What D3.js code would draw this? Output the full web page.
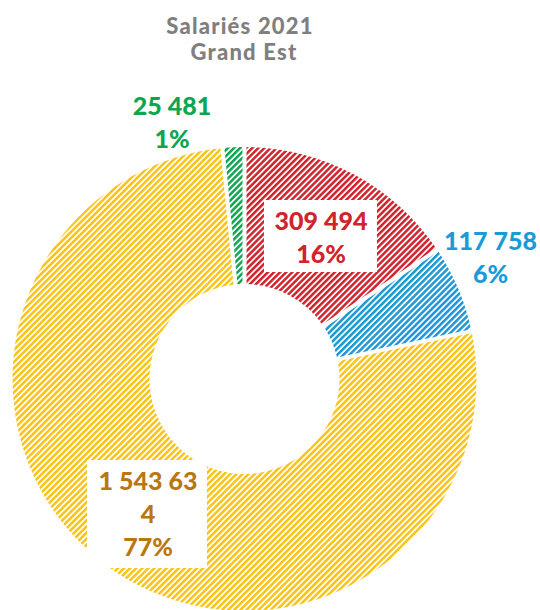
<!DOCTYPE html>
<html><head><meta charset="utf-8">
<script src="https://cdn.jsdelivr.net/npm/d3@7"></script>
<style>html,body{margin:0;padding:0;background:#fff;}svg{display:block;}</style>
</head><body>
<svg id="chart" width="540" height="610"></svg>
<script>
const titleLines = ["Salariés 2021", "Grand Est"];
const categories = ["s1", "s2", "s3", "s4"];
const values = [309494, 117758, 1543634, 25481];
const valueLines = [["309 494"], ["117 758"], ["1 543 63", "4"], ["25 481"]];
const percentLabels = ["16%", "6%", "77%", "1%"];
const sliceColors = ["#D2232C", "#1C98D6", "#FBC316", "#0EA650"];
const labelColors = ["#D0232B", "#1B9AD8", "#BA770D", "#0BA64F"];

const svg = d3.select("#chart");
const cx = 244.5, cy = 379, rOuter = 232, rInner = 95;

const defs = svg.append("defs");
sliceColors.forEach((c, i) => {
  const p = defs.append("pattern")
    .attr("id", "hatch" + i)
    .attr("patternUnits", "userSpaceOnUse")
    .attr("width", 4.3).attr("height", 4.3)
    .attr("patternTransform", "rotate(45)");
  p.append("rect").attr("width", 4.3).attr("height", 4.3).attr("fill", "#fff");
  p.append("rect").attr("x", 0).attr("y", 0).attr("width", 2.5).attr("height", 4.3).attr("fill", c);
});

const pie = d3.pie().sort(null).value(d => d.v).padAngle(0.016);
const arc = d3.arc().innerRadius(rInner).outerRadius(rOuter);
const data = categories.map((c, i) => ({c, v: values[i], i}));
const arcs = pie(data);

const g = svg.append("g").attr("transform", `translate(${cx},${cy})`);
g.selectAll("path").data(arcs).enter().append("path")
  .attr("d", arc)
  .attr("fill", d => `url(#hatch${d.data.i})`);

// title
const font = "Lato, 'Open Sans', sans-serif";
svg.append("g").selectAll("text").data(titleLines).enter().append("text")
  .attr("x", (d, i) => i === 0 ? 240 : 244)
  .attr("y", (d, i) => i === 0 ? 34 : 60)
  .attr("text-anchor", "middle")
  .attr("font-family", font).attr("font-weight", 900)
  .attr("font-size", 22).attr("letter-spacing", 1.2)
  .attr("fill", "#7F7F7F")
  .text(d => d);

// label boxes
const boxes = [
  {i: 0, x: 264, y: 200, w: 113, h: 72},
  {i: 2, x: 87, y: 460, w: 120, h: 108}
];
svg.selectAll("rect.box").data(boxes).enter().append("rect")
  .attr("class", "box")
  .attr("x", d => d.x).attr("y", d => d.y)
  .attr("width", d => d.w).attr("height", d => d.h)
  .attr("fill", "#fff");

// labels
const labelPos = [
  {x: 321, y: 230},
  {x: 490.5, y: 250},
  {x: 148, y: 490},
  {x: 172, y: 115}
];
const lineH = 33;
arcs.forEach((a, k) => {
  const i = a.data.i;
  const lines = valueLines[i].concat([percentLabels[i]]);
  const t = svg.append("text")
    .attr("text-anchor", "middle")
    .attr("font-family", font).attr("font-weight", 900)
    .attr("font-size", 25)
    .attr("fill", labelColors[i]);
  lines.forEach((ln, j) => {
    t.append("tspan").attr("x", labelPos[i].x).attr("y", labelPos[i].y + j * lineH).text(ln);
  });
});
</script>
</body></html>
